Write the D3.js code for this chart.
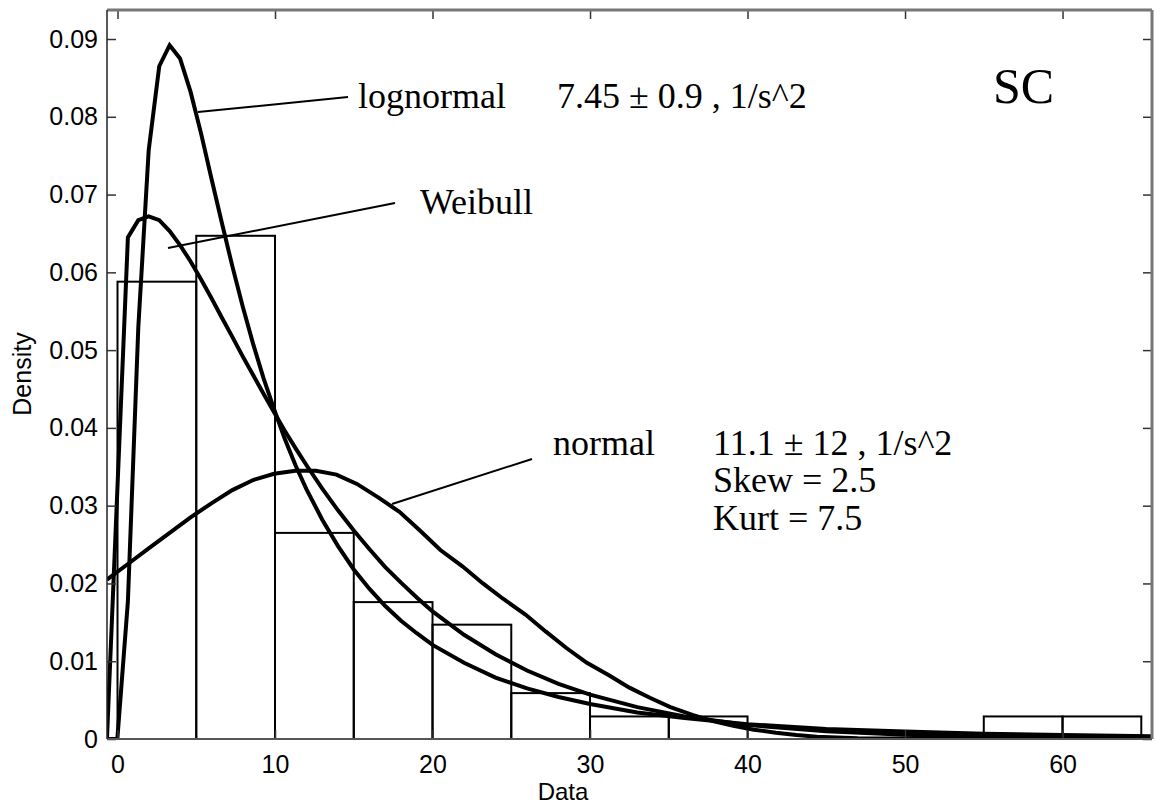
<!DOCTYPE html>
<html>
<head>
<meta charset="utf-8">
<script src="https://cdn.jsdelivr.net/npm/d3@7"></script>
<style>
  html, body { margin: 0; padding: 0; background: #fff; }
  svg { display: block; }
</style>
</head>
<body>
<svg id="chart" width="1155" height="812"></svg>
<script>
// ---------- data ----------
const binEdges = [0, 5, 10, 15, 20, 25, 30, 35, 40, 45, 50, 55, 60, 65];
const binDensity = [0.0588, 0.0647, 0.0265, 0.0176, 0.0147, 0.0059, 0.0029, 0.0029, 0, 0, 0, 0.0029, 0.0029];

const lognormalX = [-0.67, -0.01, 0.66, 1.32, 1.98, 2.65, 3.31, 3.97, 4.64, 5.30, 5.96, 6.62, 7.29, 7.95, 8.61, 9.27, 9.94, 10.6, 11.3, 12, 13, 14, 15, 16, 17, 18, 19, 20, 22, 24, 26, 28, 30, 33, 36, 40, 45, 50, 55, 60, 65.68];
const lognormalY = [0, 0, 0.0177, 0.0529, 0.0757, 0.0865, 0.0892, 0.0875, 0.0832, 0.0779, 0.0721, 0.0664, 0.0608, 0.0556, 0.0508, 0.0464, 0.0424, 0.0387, 0.0352, 0.0321, 0.0282, 0.0248, 0.0218, 0.0193, 0.0171, 0.0152, 0.0136, 0.0121, 0.0098, 0.0079, 0.0065, 0.0054, 0.0045, 0.0034, 0.0027, 0.0019, 0.0013, 0.00095, 0.00068, 0.0005, 0.00036];

const weibullX = [-0.67, 0.66, 1.32, 1.98, 2.65, 3.31, 3.97, 4.64, 5.30, 5.96, 6.62, 7.29, 7.95, 8.61, 9.27, 9.94, 10.6, 11.3, 12, 13, 14, 15, 16, 17, 18, 19, 20, 22, 24, 26, 28, 30, 33, 36, 40, 45, 50, 55, 60, 65.68];
const weibullY = [0, 0.0645, 0.0667, 0.0672, 0.0667, 0.0653, 0.0635, 0.0614, 0.0591, 0.0567, 0.0542, 0.0517, 0.0492, 0.0468, 0.0444, 0.0420, 0.0397, 0.0374, 0.0352, 0.0322, 0.0294, 0.0268, 0.0244, 0.0221, 0.0201, 0.0182, 0.0164, 0.0134, 0.0109, 0.0088, 0.0071, 0.0057, 0.0041, 0.0029, 0.0018, 0.0010, 0.00055, 0.0003, 0.00016, 0.00008];

const normalX = [-0.67, 0.66, 1.98, 3.31, 4.64, 5.96, 7.29, 8.61, 9.94, 11.3, 12.6, 13.9, 15.2, 16.6, 17.9, 19.2, 20.5, 21.9, 23.2, 24.5, 25.9, 27.2, 28.5, 29.8, 31.2, 32.5, 33.8, 35.1, 36.5, 37.8, 39.1, 40.4, 41.8, 43.1, 44.4, 47, 50, 55, 65.68];
const normalY = [0.0205, 0.0225, 0.0245, 0.0265, 0.0285, 0.0303, 0.0320, 0.0333, 0.0341, 0.0345, 0.0345, 0.0340, 0.0328, 0.0310, 0.0292, 0.0268, 0.0243, 0.0222, 0.0200, 0.0180, 0.0160, 0.0138, 0.0117, 0.0098, 0.0082, 0.0066, 0.0053, 0.0041, 0.0031, 0.0023, 0.0017, 0.0012, 0.0008, 0.0005, 0.0003, 0.0001, 0.00005, 0, 0];

const xTicks = [0, 10, 20, 30, 40, 50, 60];
const yTicks = [0, 0.01, 0.02, 0.03, 0.04, 0.05, 0.06, 0.07, 0.08, 0.09];
const xDomain = [-0.667, 65.68];
const yDomain = [0, 0.09373];

// ---------- layout ----------
const L = 107, R = 1152, T = 10, B = 739;
const svg = d3.select("#chart");
const x = d3.scaleLinear().domain(xDomain).range([L, R]);
const y = d3.scaleLinear().domain(yDomain).range([B, T]);

svg.append("defs").append("clipPath").attr("id", "clip")
  .append("rect").attr("x", L).attr("y", T).attr("width", R - L).attr("height", B - T);

// bars
const bars = binDensity.map((d, i) => ({x0: binEdges[i], x1: binEdges[i + 1], v: d})).filter(b => b.v > 0);
svg.append("g").attr("clip-path", "url(#clip)")
  .selectAll("rect").data(bars).enter().append("rect")
  .attr("x", d => x(d.x0)).attr("width", d => x(d.x1) - x(d.x0))
  .attr("y", d => y(d.v)).attr("height", d => y(0) - y(d.v))
  .attr("fill", "none").attr("stroke", "#000").attr("stroke-width", 2);

// curves
const line = d3.line().x(d => x(d[0])).y(d => y(d[1]));
const curves = [
  d3.zip(normalX, normalY),
  d3.zip(weibullX, weibullY),
  d3.zip(lognormalX, lognormalY)
];
svg.append("g").attr("clip-path", "url(#clip)")
  .selectAll("path").data(curves).enter().append("path")
  .attr("d", line).attr("fill", "none").attr("stroke", "#000")
  .attr("stroke-width", 4).attr("stroke-linejoin", "miter").attr("stroke-miterlimit", 6);

// axes (ticks inward on all four sides)
const tickColor = "#333";
const xAxisB = d3.axisBottom(x).tickValues(xTicks).tickSize(-9).tickPadding(16).tickFormat(d3.format("d"));
const xAxisT = d3.axisTop(x).tickValues(xTicks).tickSize(-9).tickFormat("");
const yAxisL = d3.axisLeft(y).tickValues(yTicks).tickSize(-9).tickPadding(9).tickFormat(d => d === 0 ? "0" : d3.format(".2f")(d));
const yAxisR = d3.axisRight(y).tickValues(yTicks).tickSize(-9).tickFormat("");

function styleAxis(g) {
  g.select(".domain").remove();
  g.selectAll(".tick line").attr("stroke", tickColor).attr("stroke-width", 1.5);
  g.selectAll(".tick text").attr("fill", "#000")
    .style("font-family", "'Liberation Sans', Arial, sans-serif").style("font-size", "25px");
}
svg.append("g").attr("transform", `translate(0,${B})`).call(xAxisB).call(styleAxis);
svg.append("g").attr("transform", `translate(0,${T})`).call(xAxisT).call(styleAxis);
svg.append("g").attr("transform", `translate(${L},0)`).call(yAxisL).call(styleAxis);
svg.append("g").attr("transform", `translate(${R},0)`).call(yAxisR).call(styleAxis);

// box
svg.append("line").attr("x1", L).attr("x2", R).attr("y1", T).attr("y2", T).attr("stroke", "#777").attr("stroke-width", 3);
svg.append("line").attr("x1", R).attr("x2", R).attr("y1", T).attr("y2", B).attr("stroke", "#777").attr("stroke-width", 3);
svg.append("line").attr("x1", L).attr("x2", R).attr("y1", B).attr("y2", B).attr("stroke", "#555").attr("stroke-width", 2);
svg.append("line").attr("x1", L).attr("x2", L).attr("y1", T).attr("y2", B).attr("stroke", "#222").attr("stroke-width", 1.5);

// axis labels
svg.append("text").attr("x", 563).attr("y", 800).attr("text-anchor", "middle")
  .style("font-family", "'Liberation Sans', Arial, sans-serif").style("font-size", "24px").text("Data");
svg.append("text").attr("transform", "translate(31,374) rotate(-90)").attr("text-anchor", "middle")
  .style("font-family", "'Liberation Sans', Arial, sans-serif").style("font-size", "25px").text("Density");

// annotations
const serif = "'Liberation Serif', 'Times New Roman', serif";
const ann = svg.append("g").style("font-family", serif).style("font-size", "36px").attr("fill", "#000");
ann.append("text").attr("x", 358).attr("y", 108).text("lognormal");
ann.append("text").attr("x", 557).attr("y", 108).text("7.45 \u00B1 0.9 , 1/s^2");
ann.append("text").attr("x", 420).attr("y", 214).text("Weibull");
ann.append("text").attr("x", 553).attr("y", 455).text("normal");
ann.append("text").attr("x", 713).attr("y", 455).text("11.1 \u00B1 12 , 1/s^2");
ann.append("text").attr("x", 713).attr("y", 492).text("Skew = 2.5");
ann.append("text").attr("x", 713).attr("y", 530).text("Kurt = 7.5");
svg.append("text").attr("x", 993).attr("y", 103).style("font-family", serif).style("font-size", "50px").text("SC");

// pointer lines
const pointers = [
  [[198, 112], [348, 97]],
  [[168, 248], [395, 203]],
  [[392, 504], [532, 459]]
];
svg.append("g").selectAll("line").data(pointers).enter().append("line")
  .attr("x1", d => d[0][0]).attr("y1", d => d[0][1]).attr("x2", d => d[1][0]).attr("y2", d => d[1][1])
  .attr("stroke", "#000").attr("stroke-width", 2);
</script>
</body>
</html>
